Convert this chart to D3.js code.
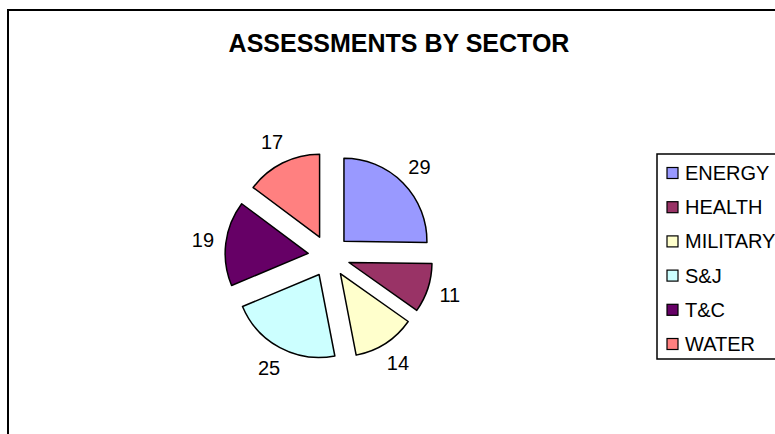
<!DOCTYPE html>
<html>
<head>
<meta charset="utf-8">
<script src="https://cdn.jsdelivr.net/npm/d3@7"></script>
<style>
  html, body { margin: 0; padding: 0; background: #fff; }
  svg { display: block; }
  text { font-family: Arial, "Liberation Sans", sans-serif; }
</style>
</head>
<body>
<svg id="chart" width="775" height="434"></svg>
<script>
const categories = ["ENERGY", "HEALTH", "MILITARY", "S&J", "T&C", "WATER"];
const values = [29, 11, 14, 25, 19, 17];
const colors = ["#9999FF", "#993366", "#FFFFCC", "#CCFFFF", "#660066", "#FF8080"];
const title = "ASSESSMENTS BY SECTOR";

const svg = d3.select("#chart");
const W = 775, H = 434;

// outer frame
svg.append("rect")
  .attr("x", 8).attr("y", 10)
  .attr("width", W + 20).attr("height", H + 20)
  .attr("fill", "#fff").attr("stroke", "#000").attr("stroke-width", 2);

// title
svg.append("text")
  .attr("x", 399).attr("y", 52)
  .attr("text-anchor", "middle")
  .attr("font-size", 25).attr("font-weight", "bold")
  .attr("fill", "#000")
  .text(title);

// pie
const cx = 329, cy = 256, r = 83, explode = 21, labelR = 127;
const data = categories.map((c, i) => ({ name: c, value: values[i], color: colors[i] }));
const pie = d3.pie().value(d => d.value).sort(null);
const arcs = pie(data);
const arc = d3.arc().innerRadius(0).outerRadius(r);

const g = svg.append("g").attr("transform", `translate(${cx},${cy})`);

g.selectAll("path.slice")
  .data(arcs)
  .join("path")
  .attr("class", "slice")
  .attr("d", arc)
  .attr("transform", d => {
    const a = (d.startAngle + d.endAngle) / 2;
    return `translate(${explode * Math.sin(a)},${-explode * Math.cos(a)})`;
  })
  .attr("fill", d => d.data.color)
  .attr("stroke", "#000")
  .attr("stroke-width", 1.5)
  .attr("stroke-linejoin", "round");

g.selectAll("text.lbl")
  .data(arcs)
  .join("text")
  .attr("class", "lbl")
  .attr("x", d => labelR * Math.sin((d.startAngle + d.endAngle) / 2))
  .attr("y", d => -labelR * Math.cos((d.startAngle + d.endAngle) / 2))
  .attr("text-anchor", "middle")
  .attr("dominant-baseline", "central")
  .attr("font-size", 20)
  .attr("fill", "#000")
  .text(d => d.data.value);

// legend
const lg = svg.append("g");
lg.append("rect")
  .attr("x", 657).attr("y", 154)
  .attr("width", 140).attr("height", 205)
  .attr("fill", "#fff").attr("stroke", "#000").attr("stroke-width", 1.5);

const ly = d3.scalePoint().domain(categories).range([173, 344]);

const items = lg.selectAll("g.item").data(data).join("g").attr("class", "item")
  .attr("transform", d => `translate(0,${ly(d.name)})`);
items.append("rect")
  .attr("x", 667).attr("y", -5.5)
  .attr("width", 11).attr("height", 11)
  .attr("fill", d => d.color)
  .attr("stroke", "#000").attr("stroke-width", 1.2);
items.append("text")
  .attr("x", 685).attr("y", 0)
  .attr("dominant-baseline", "central")
  .attr("font-size", 20)
  .attr("fill", "#000")
  .text(d => d.name);
</script>
</body>
</html>
